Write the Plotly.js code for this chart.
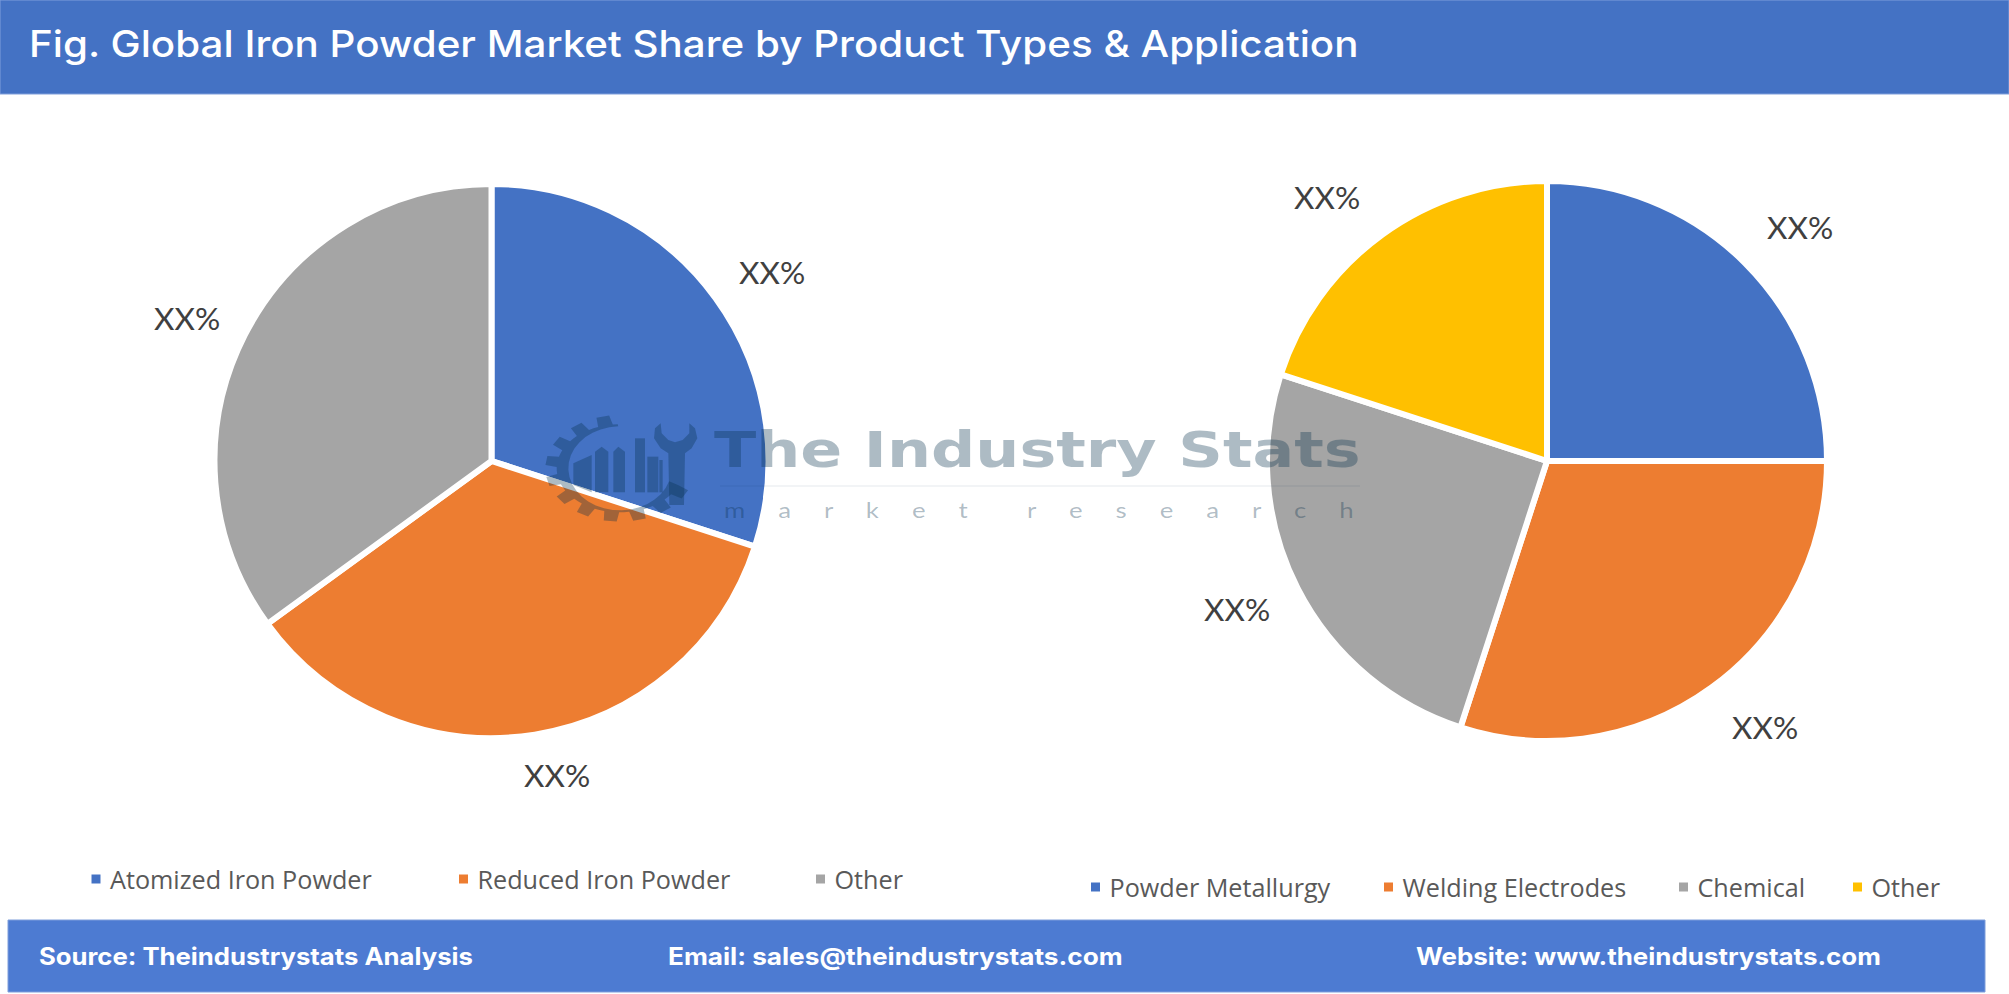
<!DOCTYPE html>
<html><head><meta charset="utf-8">
<script src="https://cdn.plot.ly/plotly-3.0.1.min.js"></script>
<style>html,body{margin:0;padding:0;background:#fff;overflow:hidden}</style>
</head><body><div id="chart" style="width:2009px;height:994px"></div>
<script>
// ---- data ----
const titleText = "Fig. Global Iron Powder Market Share by Product Types & Application";
const productLabels = ["Atomized Iron Powder", "Reduced Iron Powder", "Other"];
const productValues = [30, 35, 35];
const productColors = ["#4472C4", "#ED7D31", "#A5A5A5"];
// the trailing space keeps this "Other" apart from the first pie's "Other" in the legend
const applicationLabels = ["Powder Metallurgy", "Welding Electrodes", "Chemical", "Other "];
const applicationValues = [25, 30, 25, 20];
const applicationColors = ["#4472C4", "#ED7D31", "#A5A5A5", "#FFC000"];
const sliceLabel = "XX%";
const footerTexts = ["Source: Theindustrystats Analysis", "Email: sales@theindustrystats.com", "Website: www.theindustrystats.com"];
const footerWidths = [434, 455, 465];

// ---- layout helpers (pixel -> paper) ----
const W = 2009, H = 994;
const px = x => x / W, py = y => 1 - y / H;
const rect = (x0, y0, x1, y1, fill, line) => ({type:'rect', xref:'paper', yref:'paper', layer:'below',
  x0:px(x0), x1:px(x1), y0:py(y0), y1:py(y1), fillcolor:fill, line:{width:line?1:0, color:line||fill}});
const wm = 'rgba(6,48,76,0.33)';
const pathOf = pts => pts.map((p,i)=>(i?'L':'M')+px(p[0]).toFixed(5)+','+py(p[1]).toFixed(5)).join(' ')+' Z';
const wmShape = pts => ({type:'path', xref:'paper', yref:'paper', layer:'above', path:pathOf(pts), fillcolor:wm, line:{width:0}});
// logo is traced in a zoomed 3x frame anchored at (530,405)
const z = p => [530+p[0]/3, 405+p[1]/3];
function gear(){
  const c=[270,190], rxO=224, ryO=160, rxB=190, ryB=132, rxI=155, ryI=126, pts=[];
  const a0=-92, a1=-342, teeth=11, step=(a0-a1)/teeth;
  for(let t=0;t<teeth;t++){
    const s=a0-t*step;
    [[0,0],[0.2,0],[0.28,1],[0.72,1],[0.8,0]].forEach(([f,o])=>{
      const a=(s-f*step)*Math.PI/180, rx=o?rxO:rxB, ry=o?ryO:ryB;
      pts.push(z([c[0]+rx*Math.cos(a), c[1]+ry*Math.sin(a)]));
    });
  }
  for(let a=a1;a<=a0;a+=10){
    const r=a*Math.PI/180; pts.push(z([c[0]+rxI*Math.cos(r), c[1]+ryI*Math.sin(r)]));
  }
  return pts;
}
const logoParts = [
  gear(),
  ...[
  [[130,175],[185,150],[185,262],[130,240]],
  [[195,140],[215,125],[235,140],[235,262],[195,262]],
  [[250,140],[265,125],[285,140],[285,262],[250,262]],
  [[315,100],[345,100],[345,262],[315,262]],
  [[352,155],[385,155],[385,262],[352,262]],
  [[388,165],[398,165],[398,262],[388,262]],
  [[392,55],[395,85],[415,105],[435,112],[458,105],[478,85],[478,55],[495,70],[502,100],[485,130],[465,145],[462,300],[418,300],[415,145],[392,130],[372,100],[375,70]]
  ].map(a=>a.map(z))
];

const labelSpots = [[772,272],[557,775],[187,318],[1800,227],[1765,727],[1237,609],[1327,197]];
const label = (x,y)=>({xref:'paper',yref:'paper',x:px(x),y:py(y),xanchor:'center',yanchor:'middle',showarrow:false,
  text:sliceLabel,font:{family:'Lato',size:31.5,color:'#404040'}});
const footerSpots=[[37,956],[666,956],[1414,956]];
const gap = n => '\u00A0'.repeat(n);
const spaced = s => s.split('').join(gap(5));
const researchLine = spaced('market')+gap(9)+spaced('research');

const slice = {line:{color:'#fff',width:6}};
const traces = [
 {type:'pie',labels:productLabels,values:productValues,sort:false,direction:'clockwise',rotation:0,
  domain:{x:[px(491.5-277),px(491.5+277)],y:[py(461+277),py(461-277)]},
  marker:{colors:productColors,line:slice.line},textinfo:'none',hoverinfo:'label+percent',legend:'legend'},
 {type:'pie',labels:applicationLabels,values:applicationValues,sort:false,direction:'clockwise',rotation:0,
  domain:{x:[px(1547-280),px(1547+280)],y:[py(461+280),py(461-280)]},
  marker:{colors:applicationColors,line:slice.line},textinfo:'none',hoverinfo:'label+percent',legend:'legend2'}
];
const legendFont={family:'Open Sans',size:25.2,color:'#595959'};
const legendX={legend:75, legend2:1070};
// square centres of the legend entries, in pixels
const legendTargets={legend:[95,462.5,819.5], legend2:[1094.5,1387.5,1682.5,1856.5]};
const layout={
 width:W,height:H,autosize:false,margin:{l:0,r:0,t:0,b:0},paper_bgcolor:'#fff',plot_bgcolor:'#fff',
 title:{text:titleText,x:px(29),xanchor:'left',xref:'paper',y:py(44),yanchor:'middle',yref:'paper',
   font:{family:'Inter',size:37,color:'#fff',weight:500}},
 legend:{orientation:'h',x:px(legendX.legend),xanchor:'left',y:py(879),yanchor:'middle',font:legendFont,bgcolor:'rgba(0,0,0,0)'},
 legend2:{orientation:'h',x:px(legendX.legend2),xanchor:'left',y:py(887),yanchor:'middle',font:legendFont,bgcolor:'rgba(0,0,0,0)'},
 showlegend:true,
 shapes:[
  rect(0,0,2009,94,'#4472C4','#7E9EDB'),
  rect(8,920,1985,992,'#4D7BD2','#7E9EDB'),
  ...logoParts.map(wmShape),
  {type:'line',xref:'paper',yref:'paper',layer:'above',x0:px(720),x1:px(1360),y0:py(486),y1:py(486),line:{color:'rgba(6,48,76,0.05)',width:2}}
 ],
 annotations:[
  ...labelSpots.map(p=>label(p[0],p[1])),
  ...footerTexts.map((t,i)=>({xref:'paper',yref:'paper',x:px(footerSpots[i][0]),y:py(footerSpots[i][1]),xanchor:'left',yanchor:'middle',align:'left',showarrow:false,
     text:t,font:{family:'Inter',size:24,color:'#fff',weight:700}})),
  {xref:'paper',yref:'paper',x:px(712),y:py(450),xanchor:'left',yanchor:'middle',align:'left',showarrow:false,text:'The Industry Stats',
     font:{family:'DejaVu Sans',size:50,color:wm,weight:700}},
  {xref:'paper',yref:'paper',x:px(722),y:py(510),xanchor:'left',yanchor:'middle',align:'left',showarrow:false,text:researchLine,
     font:{family:'Lato',size:20.5,color:wm}}
 ]
};
Plotly.newPlot('chart',traces,layout,{displayModeBar:false,staticPlot:true}).then(gd=>{
  // the reference's display type is horizontally stretched: fit each line to its measured width
  const fit=(el,w)=>{
    const k=w/el.getComputedTextLength();
    el.style.transformBox='fill-box';
    el.style.transformOrigin='left center';
    el.style.transform='scaleX('+k+')';
  };
  gd.querySelectorAll('.gtitle').forEach(e=>fit(e,1330));
  gd.querySelectorAll('.annotation-text').forEach(e=>{
    const t=e.textContent, i=footerTexts.indexOf(t);
    if(i>=0) fit(e,footerWidths[i]);
    if(t==='The Industry Stats') fit(e,647);
    if(t===researchLine) fit(e,630);
  });
  // legend entry placement
  Object.keys(legendTargets).forEach(id=>{
    const g=gd.querySelector('.'+id); if(!g) return;
    const sb=g.querySelector('.scrollbox'); if(sb) sb.removeAttribute('clip-path');
    g.querySelectorAll('.traces').forEach((tr,i)=>{
      const m=/translate\(([^,]+),\s*([^)]+)\)/.exec(tr.getAttribute('transform'));
      tr.setAttribute('transform','translate('+(legendTargets[id][i]-legendX[id]-19)+','+m[2]+')');
      tr.querySelectorAll('text').forEach(tx=>{ tx.setAttribute('x',34); tx.querySelectorAll('tspan').forEach(s=>s.setAttribute('x',34)); });
      const p=tr.querySelector('.legendpie'); if(p) p.style.strokeWidth='3px';
    });
  });
});
</script></body></html>
